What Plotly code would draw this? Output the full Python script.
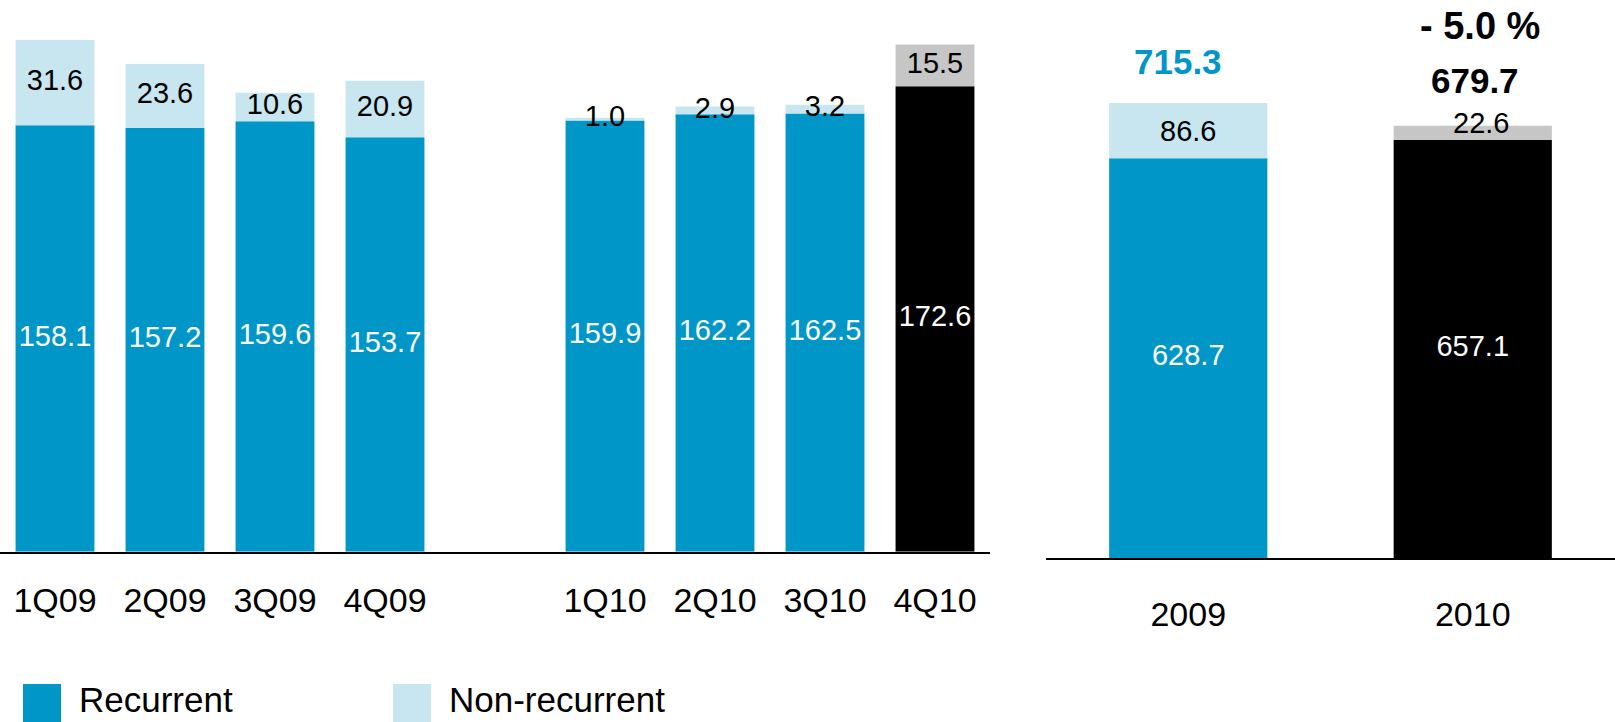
import plotly.graph_objects as go

# Quarterly net income split
quarters = ["1Q09", "2Q09", "3Q09", "4Q09", "1Q10", "2Q10", "3Q10", "4Q10"]
quarter_pos = [0, 1, 2, 3, 5, 6, 7, 8]
recurrent_q = [158.1, 157.2, 159.6, 153.7, 159.9, 162.2, 162.5, 172.6]
nonrecurrent_q = [31.6, 23.6, 10.6, 20.9, 1.0, 2.9, 3.2, 15.5]

# Full-year totals
years = ["2009", "2010"]
year_pos = [0, 1]
recurrent_y = [628.7, 657.1]
nonrecurrent_y = [86.6, 22.6]
change_label = "- 5.0 %"

BLUE = "#0097C8"
LIGHT = "#C8E6F0"
BLACK = "#000000"
GREY = "#C6C6C6"
FONT = "Liberation Sans, Arial, sans-serif"

W, H = 1615, 722

def px_x(p):
    return p / W

def px_y(p):
    return 1 - p / H

rec_colors_q = [BLUE] * 7 + [BLACK]
non_colors_q = [LIGHT] * 7 + [GREY]
rec_colors_y = [BLUE, BLACK]
non_colors_y = [LIGHT, GREY]

fig = go.Figure()

# Quarterly stacked bars
fig.add_trace(go.Bar(x=quarter_pos, y=recurrent_q, marker=dict(color=rec_colors_q, line_width=0),
                     width=0.717, xaxis="x", yaxis="y", showlegend=False, hoverinfo="skip"))
fig.add_trace(go.Bar(x=quarter_pos, y=nonrecurrent_q, base=recurrent_q,
                     marker=dict(color=non_colors_q, line_width=0),
                     width=0.717, xaxis="x", yaxis="y", showlegend=False, hoverinfo="skip"))

# Quarterly value labels, centred in each segment
fig.add_trace(go.Scatter(x=quarter_pos, y=[r / 2 for r in recurrent_q], mode="text",
                         text=[f"{v:.1f}" for v in recurrent_q],
                         textfont=dict(family=FONT, size=29, color="white"),
                         xaxis="x", yaxis="y", showlegend=False, hoverinfo="skip"))
fig.add_trace(go.Scatter(x=quarter_pos, y=[r + n / 2 for r, n in zip(recurrent_q, nonrecurrent_q)],
                         mode="text", text=[f"{v:.1f}" for v in nonrecurrent_q],
                         textfont=dict(family=FONT, size=29, color="black"),
                         xaxis="x", yaxis="y", showlegend=False, hoverinfo="skip"))

# Annual stacked bars
fig.add_trace(go.Bar(x=year_pos, y=recurrent_y, marker=dict(color=rec_colors_y, line_width=0),
                     width=0.556, xaxis="x2", yaxis="y2", showlegend=False, hoverinfo="skip"))
fig.add_trace(go.Bar(x=year_pos, y=nonrecurrent_y, base=recurrent_y,
                     marker=dict(color=non_colors_y, line_width=0),
                     width=0.556, xaxis="x2", yaxis="y2", showlegend=False, hoverinfo="skip"))
fig.add_trace(go.Scatter(x=year_pos, y=[r / 2 for r in recurrent_y], mode="text",
                         text=[f"{v:.1f}" for v in recurrent_y],
                         textfont=dict(family=FONT, size=29, color="white"),
                         xaxis="x2", yaxis="y2", showlegend=False, hoverinfo="skip"))

annotations = []
# Non-recurrent annual labels
annotations.append(dict(x=year_pos[0], y=recurrent_y[0] + nonrecurrent_y[0] / 2, xref="x2", yref="y2",
                        text=f"{nonrecurrent_y[0]:.1f}", showarrow=False,
                        xanchor="center", yanchor="middle",
                        font=dict(family=FONT, size=29, color="black")))
annotations.append(dict(x=year_pos[1], y=recurrent_y[1] + nonrecurrent_y[1] / 2, xref="x2", yref="y2",
                        text=f"{nonrecurrent_y[1]:.1f}", showarrow=False, yshift=10, xshift=8,
                        xanchor="center", yanchor="middle",
                        font=dict(family=FONT, size=29, color="black")))
# Annual totals
totals = [r + n for r, n in zip(recurrent_y, nonrecurrent_y)]
annotations.append(dict(x=year_pos[0], y=totals[0], xref="x2", yref="y2",
                        xanchor="center", yanchor="bottom",
                        text=f"<b>{totals[0]:.1f}</b>", showarrow=False, yshift=20, xshift=-10,
                        font=dict(family=FONT, size=35, color=BLUE)))
annotations.append(dict(x=year_pos[1], y=totals[1], xref="x2", yref="y2",
                        xanchor="center", yanchor="bottom",
                        text=f"<b>{totals[1]:.1f}</b>", showarrow=False, yshift=24, xshift=2,
                        font=dict(family=FONT, size=35, color="black")))
annotations.append(dict(x=px_x(1480), y=px_y(26), xref="paper", yref="paper",
                        xanchor="center", yanchor="middle",
                        text=f"<b>{change_label}</b>", showarrow=False,
                        font=dict(family=FONT, size=38, color="black")))

# Legend
legend_items = [("Recurrent", BLUE, 23), ("Non-recurrent", LIGHT, 393)]
shapes = []
for name, color, left in legend_items:
    shapes.append(dict(type="rect", xref="paper", yref="paper",
                       x0=px_x(left), x1=px_x(left + 38), y0=px_y(722), y1=px_y(684),
                       fillcolor=color, line_width=0))
    annotations.append(dict(x=px_x(left + 54), y=px_y(699), xref="paper", yref="paper",
                            xanchor="left", yanchor="middle", text=name, showarrow=False,
                            font=dict(family=FONT, size=35, color="black")))

axis_common = dict(showgrid=False, zeroline=False, showline=True, linecolor="black", linewidth=2,
                   ticks="outside", tickcolor="rgba(0,0,0,0)",
                   tickfont=dict(family=FONT, size=34, color="black"))

fig.update_layout(
    width=W, height=H, margin=dict(l=0, r=0, t=0, b=0),
    paper_bgcolor="white", plot_bgcolor="white",
    barmode="overlay", showlegend=False,
    xaxis=dict(domain=[0, px_x(990)], range=[-0.5, 8.5], tickvals=quarter_pos, ticktext=quarters,
               ticklen=17, anchor="y", **axis_common),
    yaxis=dict(domain=[px_y(551.7), 1], range=[0, 551.7 / 2.697], visible=False, anchor="x"),
    xaxis2=dict(domain=[px_x(1046), 1], range=[-0.5, 1.5], tickvals=year_pos, ticktext=years,
                ticklen=25, anchor="y2", **axis_common),
    yaxis2=dict(domain=[px_y(558), 1], range=[0, 558 / 0.636], visible=False, anchor="x2"),
    shapes=shapes, annotations=annotations,
)

fig.write_html("out.html")
